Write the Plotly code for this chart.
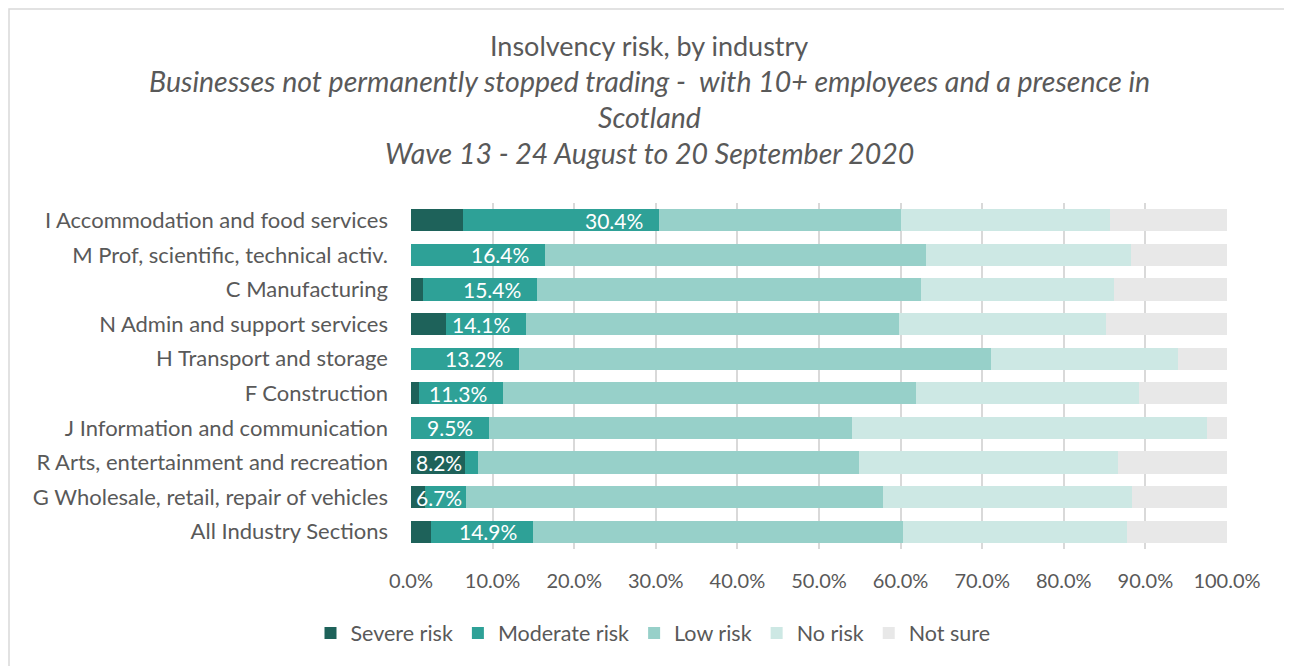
import plotly.graph_objects as go

industries = [
    "I Accommodation and food services",
    "M Prof, scientific, technical activ.",
    "C Manufacturing",
    "N Admin and support services",
    "H Transport and storage",
    "F Construction",
    "J Information and communication",
    "R Arts, entertainment and recreation",
    "G Wholesale, retail, repair of vehicles",
    "All Industry Sections",
]
severe = [6.4, 0.0, 1.5, 4.3, 0.0, 1.0, 0.0, 6.6, 1.7, 2.4]
moderate = [24.0, 16.4, 13.9, 9.8, 13.2, 10.3, 9.5, 1.6, 5.0, 12.5]
low = [29.6, 46.7, 47.1, 45.7, 57.9, 50.6, 44.5, 46.7, 51.2, 45.4]
no_risk = [25.6, 25.1, 23.7, 25.4, 22.9, 27.3, 43.5, 31.7, 30.5, 27.4]
not_sure = [14.4, 11.8, 13.8, 14.8, 6.0, 10.8, 2.5, 13.4, 11.6, 12.3]
combined_labels = [30.4, 16.4, 15.4, 14.1, 13.2, 11.3, 9.5, 8.2, 6.7, 14.9]

series_names = ["Severe risk", "Moderate risk", "Low risk", "No risk", "Not sure"]
series_values = [severe, moderate, low, no_risk, not_sure]
colors = ["#1e625a", "#2ea197", "#97d0c9", "#cde8e4", "#e8e8e8"]

FONT = "Lato, Carlito, Calibri, sans-serif"
GREY = "#595959"

# the page body adds an 8px offset; work in page pixels and subtract it
OFF = 8
FIG_W, FIG_H = 1292 - OFF, 666 - OFF

fig = go.Figure()
for name, vals, col in zip(series_names, series_values, colors):
    fig.add_trace(go.Bar(
        y=industries, x=vals, name=name, orientation="h",
        marker=dict(color=col, line=dict(width=0)),
        hoverinfo="x+y+name",
    ))

annotations = []
for ind, s, m, lab in zip(industries, severe, moderate, combined_labels):
    total = s + m
    if total < 7.5:
        annotations.append(dict(x=0, y=ind, xref="x", yref="y", text=f"{lab:.1f}%",
                                showarrow=False, xanchor="left", xshift=3,
                                font=dict(family=FONT, size=21, color="white")))
    else:
        annotations.append(dict(x=total, y=ind, xref="x", yref="y", text=f"{lab:.1f}%",
                                showarrow=False, xanchor="right", xshift=-14,
                                font=dict(family=FONT, size=21, color="white")))

# plot area in page pixels: x 411..1227, y 203..549
L, R, T, B = 411, 1227, 203, 549
W, H = R - L, B - T

def px_x(p):
    return (p - L) / W

def px_y(p):
    return (B - p) / H

title_lines = [
    ("Insolvency risk, by industry", 45, False, 27),
    ("Businesses not permanently stopped trading -  with 10+ employees and a presence in", 81, True, 28.5),
    ("Scotland", 117, True, 28.5),
    ("Wave 13 - 24 August to 20 September 2020", 153, True, 28.5),
]
for txt, ypx, ital, sz in title_lines:
    annotations.append(dict(
        x=px_x(649), y=px_y(ypx), xref="paper", yref="paper",
        text=f"<i>{txt}</i>" if ital else txt, showarrow=False,
        xanchor="center", yanchor="middle",
        font=dict(family=FONT, size=sz, color=GREY)))

fig.update_layout(
    barmode="stack",
    bargap=0.36,
    width=FIG_W, height=FIG_H,
    margin=dict(l=L - OFF, r=1292 - R, t=T - OFF, b=666 - B, pad=0),
    paper_bgcolor="white",
    plot_bgcolor="white",
    font=dict(family=FONT, size=20, color=GREY),
    showlegend=True,
    legend=dict(orientation="h", x=px_x(653), xanchor="center",
                y=px_y(633), yanchor="middle",
                font=dict(family=FONT, size=21.5, color=GREY),
                itemwidth=30, traceorder="normal", tracegroupgap=0),
    annotations=annotations,
    shapes=[dict(type="rect", xref="paper", yref="paper",
                 x0=px_x(OFF + 1), x1=px_x(1288), y0=px_y(700), y1=px_y(OFF + 1),
                 line=dict(color="#d9d9d9", width=1.5), fillcolor="rgba(0,0,0,0)",
                 layer="below")],
)
fig.update_xaxes(
    range=[0, 100], dtick=10, tick0=0,
    tickformat=".1f", ticksuffix="%",
    showgrid=True, gridcolor="#d9d9d9", gridwidth=1.5,
    zeroline=False, showline=False,
    ticks="", ticklabelstandoff=18,
    tickfont=dict(family=FONT, size=20, color=GREY),
)
fig.update_yaxes(
    categoryorder="array", categoryarray=industries, autorange="reversed",
    showgrid=False, zeroline=False, showline=False, ticks="",
    ticklabelstandoff=22,
    tickfont=dict(family=FONT, size=22, color=GREY),
)

fig.write_html("out.html")
